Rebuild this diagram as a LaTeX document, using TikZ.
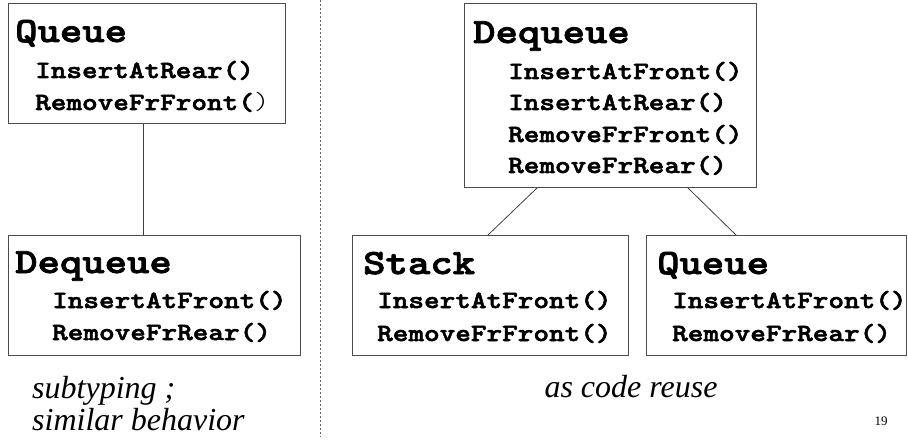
\documentclass[tikz,border=0pt]{standalone}
\usepackage{fontspec}
\setmainfont{Liberation Serif}
\newfontfamily\codefont{lmmonolt10-bold.otf}[FakeStretch=1.2,FakeBold=2.2]
\newfontfamily\codethin{lmmonolt10-regular.otf}[FakeStretch=1.2]
\begin{document}
\begin{tikzpicture}[x=1pt,y=-1pt,
  box/.style={draw=black!70,line width=1pt,rectangle,inner sep=0pt,anchor=north west},
  link/.style={draw=black!75,line width=0.8pt},
  title/.style={anchor=base west,inner sep=0pt,font=\codefont\fontsize{35.5}{38}\selectfont},
  meth/.style={anchor=base west,inner sep=0pt,font=\codefont\fontsize{24.8}{27}\selectfont},
  note/.style={anchor=base west,inner sep=0pt,font=\itshape\fontsize{32}{36}\selectfont}]
\useasboundingbox (0,0) rectangle (908,441);

% separator between the two halves
\draw[black!60,line width=0.8pt,dash pattern=on 2pt off 2pt] (320,0) -- (320,437);

% left half: Queue above Dequeue
\node[box,minimum width=277pt,minimum height=120pt] (q1) at (8,3) {};
\node[title] (q1t) at (15,42) {Queue};
\node[meth] (q1a) at (35,78) {InsertAtRear()};
\node[meth] (q1b) at (35,110) {RemoveFrFront({\codethin)}};

\node[box,minimum width=292pt,minimum height=120pt] (d1) at (8,235) {};
\node[title] (d1t) at (15,273) {Dequeue};
\node[meth] (d1a) at (52,308) {InsertAtFront()};
\node[meth] (d1b) at (52,340) {RemoveFrRear()};

\draw[link] (q1.south -| 143,0) -- (d1.north -| 143,0);

% right half: Dequeue above Stack and Queue
\node[box,minimum width=292pt,minimum height=184pt] (d2) at (464,3) {};
\node[title] (d2t) at (473,43) {Dequeue};
\node[meth] (d2a) at (508,79) {InsertAtFront()};
\node[meth] (d2b) at (508,110) {InsertAtRear()};
\node[meth] (d2c) at (508,142) {RemoveFrFront()};
\node[meth] (d2d) at (508,173) {RemoveFrRear()};

\node[box,minimum width=276pt,minimum height=120pt] (s) at (352,235) {};
\node[title] (st) at (363,274) {Stack};
\node[meth] (sa) at (377,308) {InsertAtFront()};
\node[meth] (sb) at (377,341) {RemoveFrFront()};

\node[box,minimum width=260pt,minimum height=120pt] (q2) at (646,235) {};
\node[title] (q2t) at (657,274) {Queue};
\node[meth] (q2a) at (672,308) {InsertAtFront()};
\node[meth] (q2b) at (672,341) {RemoveFrRear()};

\draw[link] ([xshift=73pt]d2.south west) -- ([xshift=136pt]s.north west);
\draw[link] ([xshift=224pt]d2.south west) -- ([xshift=90pt]q2.north west);

% captions
\node[note] (cap1) at (32,398) {subtyping ;};
\node[note] (cap2) at (32,430) {similar behavior};
\node[note,anchor=base] (cap3) at (631,397) {as code reuse};
\node[anchor=base,inner sep=0pt,font=\fontsize{13}{15}\selectfont] (pg) at (881,425) {19};
\end{tikzpicture}
\end{document}
